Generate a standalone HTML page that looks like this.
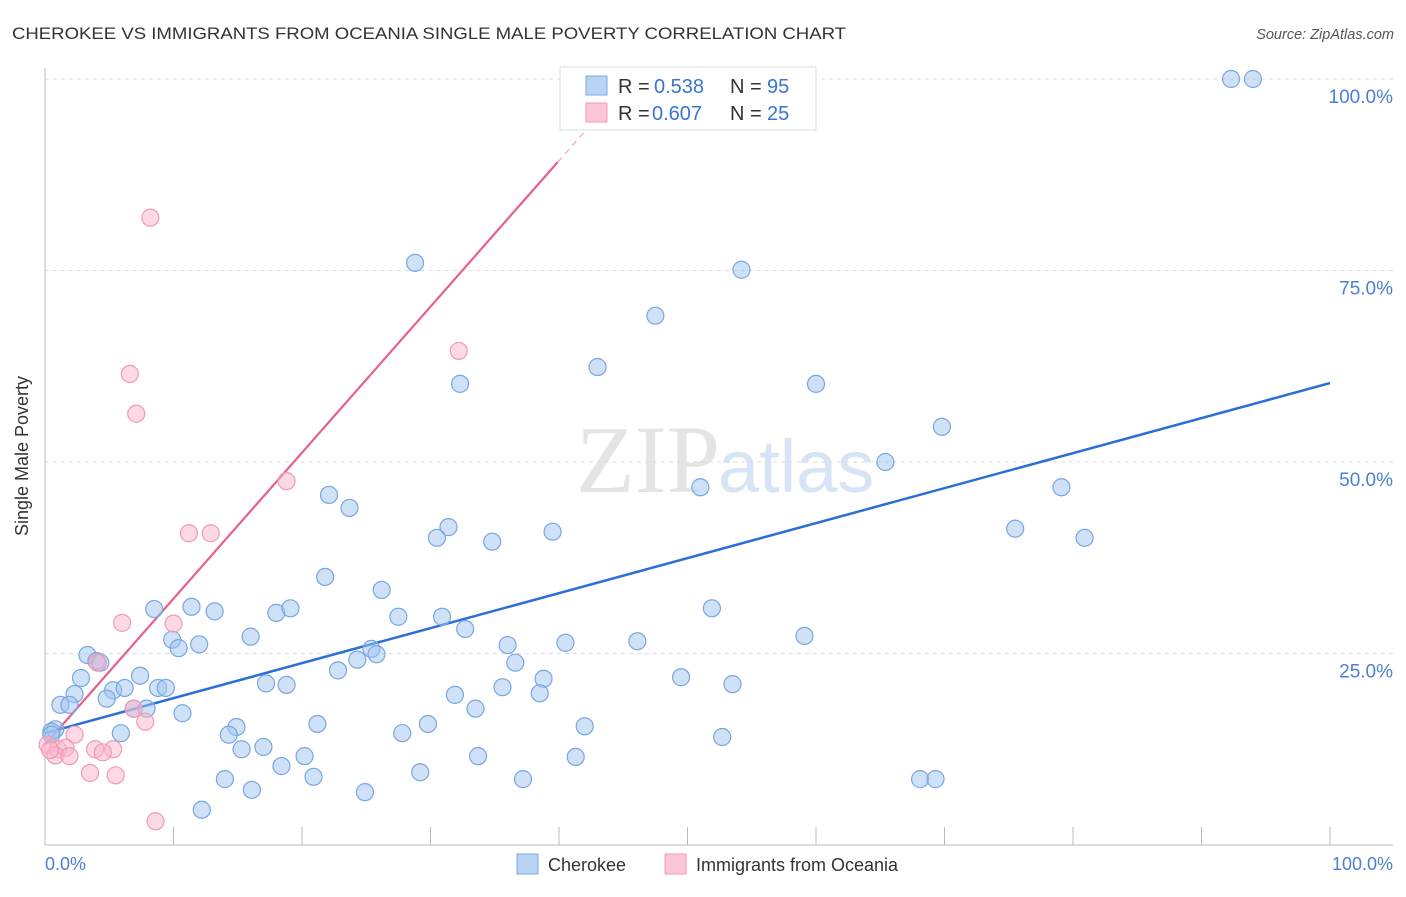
<!DOCTYPE html>
<html><head><meta charset="utf-8"><style>
body{margin:0;background:#fff;font-family:"Liberation Sans",sans-serif}
</style></head><body>
<svg id="chart" width="1406" height="892" xmlns="http://www.w3.org/2000/svg">
<text x="12" y="39" font-size="17" fill="#333" textLength="834" lengthAdjust="spacingAndGlyphs">CHEROKEE VS IMMIGRANTS FROM OCEANIA SINGLE MALE POVERTY CORRELATION CHART</text>
<text x="1394" y="39" font-size="14.5" fill="#555" font-style="italic" text-anchor="end">Source: ZipAtlas.com</text>
<text x="720" y="492" font-size="96" fill="#e4e4e4" text-anchor="end" font-family="Liberation Serif,serif">ZIP</text>
<text x="718" y="492" font-size="74" fill="#d6e4f5">atlas</text>
<g id="grid"></g>
<g id="axes"></g>
<g id="trend"></g>
<g id="pts"></g>
<text x="28" y="456" font-size="18" fill="#333" text-anchor="middle" transform="rotate(-90 28 456)">Single Male Poverty</text>
<text x="45" y="870" font-size="18" fill="#4a7fd4">0.0%</text>
<text x="1393" y="870" font-size="18" fill="#4a7fd4" text-anchor="end">100.0%</text>
<g>
<rect x="560" y="67" width="256" height="63" fill="#fff" stroke="#ddd"/>
<rect x="586" y="76" width="21" height="19" fill="#b9d3f5" stroke="#7aa7e0"/>
<rect x="586" y="103" width="21" height="19" fill="#fbc7d6" stroke="#f09ab4"/>
<text x="618" y="93" font-size="20" fill="#333">R =</text>
<text x="654" y="93" font-size="20" fill="#3a74d0">0.538</text>
<text x="730" y="93" font-size="20" fill="#333">N =</text>
<text x="767" y="93" font-size="20" fill="#3a74d0">95</text>
<text x="618" y="120" font-size="20" fill="#333">R =</text>
<text x="652" y="120" font-size="20" fill="#3a74d0">0.607</text>
<text x="730" y="120" font-size="20" fill="#333">N =</text>
<text x="767" y="120" font-size="20" fill="#3a74d0">25</text>
</g>
<g>
<rect x="517" y="854" width="21" height="20" fill="#b9d3f5" stroke="#7aa7e0"/>
<text x="548" y="871" font-size="18" fill="#333">Cherokee</text>
<rect x="665" y="854" width="21" height="20" fill="#fbc7d6" stroke="#f09ab4"/>
<text x="696" y="871" font-size="18" fill="#333">Immigrants from Oceania</text>
</g>
</svg>
<script>
const yTicks=[25,50,75,100];
const yTickLabels=["25.0%","50.0%","75.0%","100.0%"];
const xTicks=[10,20,30,40,50,60,70,80,90,100];
const cherokeeX=[92.3,94.0,28.8,54.2,47.5,43.0,32.3,60.0,69.8,65.4,51.0,79.1,22.1,23.7,31.4,30.5,39.5,34.8,75.5,80.9,21.8,26.2,8.5,11.4,13.2,18.0,19.1,27.5,30.9,51.9,32.7,16.0,9.9,10.4,12.0,36.0,40.5,46.1,59.1,3.3,4.0,4.3,24.3,25.4,25.8,36.6,22.8,7.4,2.8,49.5,38.8,17.2,18.8,2.3,5.3,6.2,8.8,9.4,35.6,38.5,53.5,4.8,1.2,1.9,6.9,7.9,10.7,31.9,33.5,21.2,14.9,42.0,29.8,0.8,0.5,0.5,5.9,14.3,27.8,52.7,17.0,15.3,20.2,33.7,41.3,18.4,29.2,14.0,20.9,37.2,68.1,69.3,16.1,24.9,12.2];
const cherokeeY=[100,100,76.0,75.1,69.1,62.4,60.2,60.2,54.6,50.0,46.7,46.7,45.7,44.0,41.5,40.1,40.9,39.6,41.3,40.1,35.0,33.3,30.8,31.1,30.5,30.3,30.9,29.8,29.8,30.9,28.2,27.2,26.8,25.7,26.2,26.1,26.4,26.6,27.3,24.8,24.0,23.8,24.2,25.6,24.9,23.8,22.8,22.1,21.8,21.9,21.7,21.1,20.9,19.7,20.2,20.5,20.5,20.5,20.6,19.8,21.0,19.1,18.3,18.3,17.8,17.8,17.2,19.6,17.8,15.8,15.4,15.5,15.8,15.1,14.8,14.4,14.6,14.4,14.6,14.1,12.8,12.5,11.6,11.6,11.5,10.3,9.5,8.6,8.9,8.6,8.6,8.6,7.2,6.9,4.6];
const oceaniaX=[8.2,32.2,6.6,7.1,18.8,11.2,12.9,6.0,10.0,4.1,6.9,7.8,2.3,0.2,1.0,1.6,3.9,5.3,4.5,0.8,1.9,3.5,5.5,8.6,0.4];
const oceaniaY=[81.9,64.5,61.5,56.3,47.5,40.7,40.7,29.0,28.9,23.8,17.8,16.1,14.4,13.1,12.5,12.7,12.5,12.5,12.1,11.7,11.6,9.4,9.1,3.1,12.4];
const cherokeeTrend=[14.6,60.3];
const oceaniaTrend=[13.1,1.906];
const oceaniaSolidEnd=39.9, oceaniaDashEnd=45.5;

const NS="http://www.w3.org/2000/svg";
const X=v=>45+v*12.85, Y=v=>845-v*7.66;
function mk(tag,attrs,parent){const e=document.createElementNS(NS,tag);for(const k in attrs)e.setAttribute(k,attrs[k]);parent.appendChild(e);return e;}
const grid=document.getElementById('grid'),axes=document.getElementById('axes'),trend=document.getElementById('trend'),pts=document.getElementById('pts');
yTicks.forEach((t,i)=>{
 const l=mk('line',{x1:45,x2:1393,y1:Y(t),y2:Y(t),stroke:'#ddd','stroke-dasharray':'4,4'},grid);
 
 
 const tx=mk('text',{x:1393,y:Y(t)+24,'font-size':19,fill:'#4a7fd4','text-anchor':'end'},grid);
 tx.textContent=yTickLabels[i];
 
 
});
const ya=mk('line',{x1:45,x2:45,y1:68,y2:845,stroke:'#bbb'},axes);


const xa=mk('line',{x1:45,x2:1393,y1:845,y2:845,stroke:'#bbb'},axes);


xTicks.forEach(t=>{
 const l=mk('line',{x1:X(t),x2:X(t),y1:827,y2:845,stroke:'#bbb'},axes);
 
 
});
function dot(x,y,fill,stroke,name){
 const c=mk('circle',{cx:X(x),cy:Y(y),r:8.5,fill:fill,stroke:stroke,'stroke-width':1.2},pts);
 
 
}
cherokeeX.forEach((x,i)=>dot(x,cherokeeY[i],'rgba(160,196,240,0.5)','#78a6e2','cherokee-point'));
oceaniaX.forEach((x,i)=>dot(x,oceaniaY[i],'rgba(250,180,202,0.5)','#f09ab6','oceania-point'));
const bl=mk('line',{x1:X(0),y1:Y(cherokeeTrend[0]),x2:X(100),y2:Y(cherokeeTrend[1]),stroke:'#2a6fd6','stroke-width':2.5},trend);


const oy=x=>oceaniaTrend[0]+oceaniaTrend[1]*x;
const pl=mk('line',{x1:X(0),y1:Y(oy(0)),x2:X(oceaniaSolidEnd),y2:Y(oy(oceaniaSolidEnd)),stroke:'#e8608a','stroke-width':2.2},trend);


const pd=mk('line',{x1:X(oceaniaSolidEnd),y1:Y(oy(oceaniaSolidEnd)),x2:X(oceaniaDashEnd),y2:Y(oy(oceaniaDashEnd)),stroke:'#f0a0b8','stroke-width':1.2,'stroke-dasharray':'6,5'},trend);


</script>
</body></html>
